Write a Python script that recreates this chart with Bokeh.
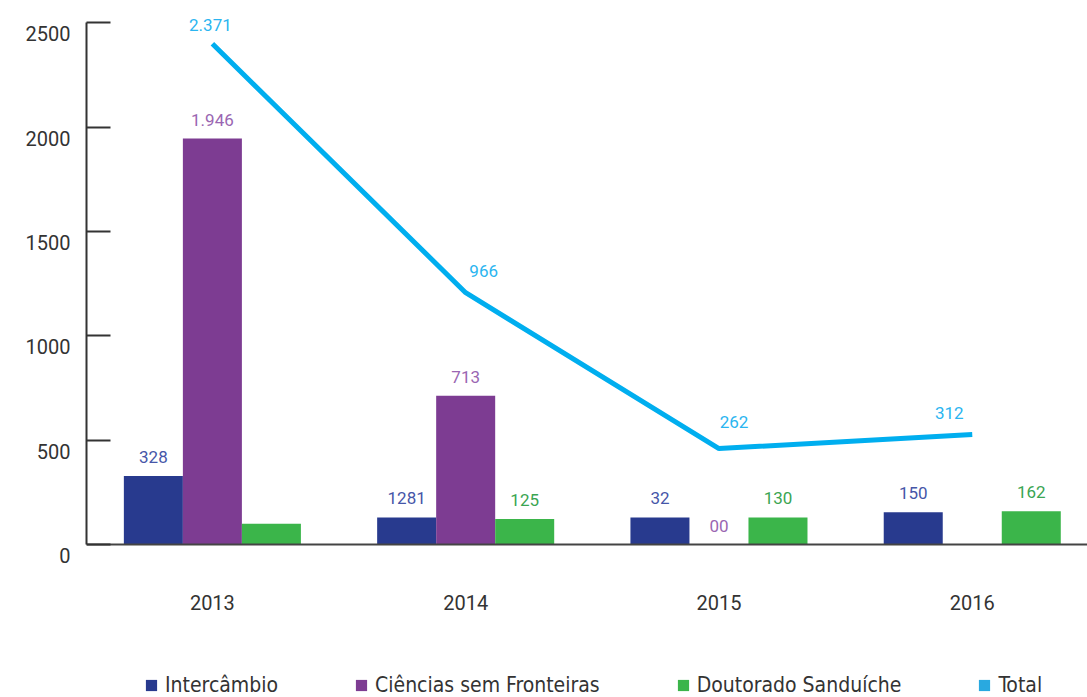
from bokeh.plotting import figure
from bokeh.models import (Range1d, FixedTicker, ColumnDataSource, Legend, LegendItem,
                          LinearAxis)
from bokeh.core.properties import value
from bokeh.embed import file_html
from bokeh.resources import INLINE

# ---- data ----
years = ["2013", "2014", "2015", "2016"]
intercambio = [328, 130, 130, 155]
intercambio_labels = ["328", "1281", "32", "150"]
ciencias = [1946, 713, 0, 0]
ciencias_labels = ["1.946", "713", "00", ""]
doutorado = [100, 122, 130, 160]
doutorado_labels = ["", "125", "130", "162"]
total = [2400, 1207, 460, 527]
total_labels = ["2.371", "966", "262", "312"]
y_ticks = [0, 500, 1000, 1500, 2000, 2500]
series_names = ["Intercâmbio", "Ciências sem Fronteiras", "Doutorado Sanduíche", "Total"]

# ---- styling ----
FONT = "Roboto"
LEGEND_FONT = "DejaVu Sans Condensed, Roboto"
C_INT, C_CIE, C_DOU, C_TOT = "#283A8E", "#7D3C92", "#3BB54A", "#00AEEF"
C_TOT_SWATCH = "#29A9E0"
L_INT, L_CIE, L_DOU, L_TOT = "#4656A8", "#9A66B2", "#3AA552", "#2BB5F0"
BW = 0.233
tot_dx = [-2, 18, 15, -23]
tot_dy = [-19, -22, -27, -22]
Y_START, Y_END = -733, 2550   # frame runs to the page bottom; zero line sits at ~544px
LABEL_SHIFT = 53              # tick labels sit ~11px below their ticks
W, H = 1087, 697

centers = [i + 0.5 for i in range(len(years))]

p = figure(width=W, height=H, output_backend="svg", toolbar_location=None,
           x_range=Range1d(0.003, 3.955), y_range=Range1d(Y_START, Y_END),
           min_border_left=86, min_border_right=0, min_border_top=12,
           min_border_bottom=0)
p.outline_line_color = None
p.xgrid.visible = False
p.ygrid.visible = False

src = ColumnDataSource(dict(
    x_int=[c - BW for c in centers], x_cie=centers, x_dou=[c + BW for c in centers],
    x_tot=centers,
    intercambio=intercambio, ciencias=ciencias, doutorado=doutorado, total=total,
    l_int=intercambio_labels, l_cie=ciencias_labels, l_dou=doutorado_labels,
    l_tot=total_labels, dx=tot_dx, dy=tot_dy,
))

r_int = p.vbar(x="x_int", top="intercambio", width=BW, source=src,
               fill_color=C_INT, line_color=None)
r_cie = p.vbar(x="x_cie", top="ciencias", width=BW, source=src,
               fill_color=C_CIE, line_color=None)
r_dou = p.vbar(x="x_dou", top="doutorado", width=BW, source=src,
               fill_color=C_DOU, line_color=None)
p.line(x="x_tot", y="total", source=src, line_width=5, line_color=C_TOT)
# zero-size bars that only supply the square "Total" legend swatch
r_tot_leg = p.vbar(x="x_tot", top=0, width=0, source=src,
                   fill_color=C_TOT_SWATCH, line_color=None)

for xcol, ycol, lcol, col in [("x_int", "intercambio", "l_int", L_INT),
                              ("x_cie", "ciencias", "l_cie", L_CIE),
                              ("x_dou", "doutorado", "l_dou", L_DOU)]:
    p.text(x=xcol, y=ycol, text=lcol, source=src, text_align="center",
           text_baseline="middle", y_offset=-19, text_font=value(FONT),
           text_font_size="17px", text_color=col)

p.text(x="x_tot", y="total", text="l_tot", source=src, text_align="center",
       text_baseline="middle", x_offset="dx", y_offset="dy",
       text_font=value(FONT), text_font_size="17px", text_color=L_TOT)

# y axis: line + inward ticks
yax = p.yaxis[0]
yax.ticker = FixedTicker(ticks=y_ticks)
yax.bounds = (0, 2500)
yax.axis_line_width = 2
yax.axis_line_color = "#333333"
yax.major_tick_line_width = 2
yax.major_tick_line_color = "#333333"
yax.major_tick_in = 24
yax.major_tick_out = 0
yax.minor_tick_line_color = None
yax.major_label_standoff = 0
yax.major_label_overrides = {t: "" for t in y_ticks}

# y tick labels, drawn slightly below their ticks as in the reference
p.extra_y_ranges = {"labels": Range1d(Y_START + LABEL_SHIFT, Y_END + LABEL_SHIFT)}
ylab = LinearAxis(y_range_name="labels", ticker=FixedTicker(ticks=y_ticks))
ylab.axis_line_color = None
ylab.major_tick_line_color = None
ylab.minor_tick_line_color = None
ylab.major_tick_out = 0
ylab.major_tick_in = 0
ylab.major_label_standoff = 16
ylab.major_label_text_font = FONT
ylab.major_label_text_font_size = "20px"
ylab.major_label_text_color = "#333333"
p.add_layout(ylab, "left")

# x axis sits on the zero line
xax = p.xaxis[0]
xax.fixed_location = 0
xax.ticker = FixedTicker(ticks=centers)
xax.major_label_overrides = {c: y for c, y in zip(centers, years)}
xax.axis_line_width = 2
xax.axis_line_color = "#444444"
xax.major_tick_line_color = None
xax.minor_tick_line_color = None
xax.major_tick_out = 0
xax.major_tick_in = 0
xax.major_label_standoff = 50
xax.major_label_text_font = FONT
xax.major_label_text_font_size = "20px"
xax.major_label_text_color = "#333333"

legend = Legend(items=[
    LegendItem(label=series_names[0], renderers=[r_int]),
    LegendItem(label=series_names[1], renderers=[r_cie]),
    LegendItem(label=series_names[2], renderers=[r_dou]),
    LegendItem(label=series_names[3], renderers=[r_tot_leg]),
], location=(58, 0), orientation="horizontal", glyph_width=14,
    glyph_height=14, label_standoff=7, spacing=76, padding=0, margin=0,
    border_line_color=None, background_fill_alpha=0,
    label_text_font=LEGEND_FONT, label_text_font_size="21px",
    label_text_color="#333333")
p.add_layout(legend)

open("out.html", "w").write(file_html(p, INLINE))
